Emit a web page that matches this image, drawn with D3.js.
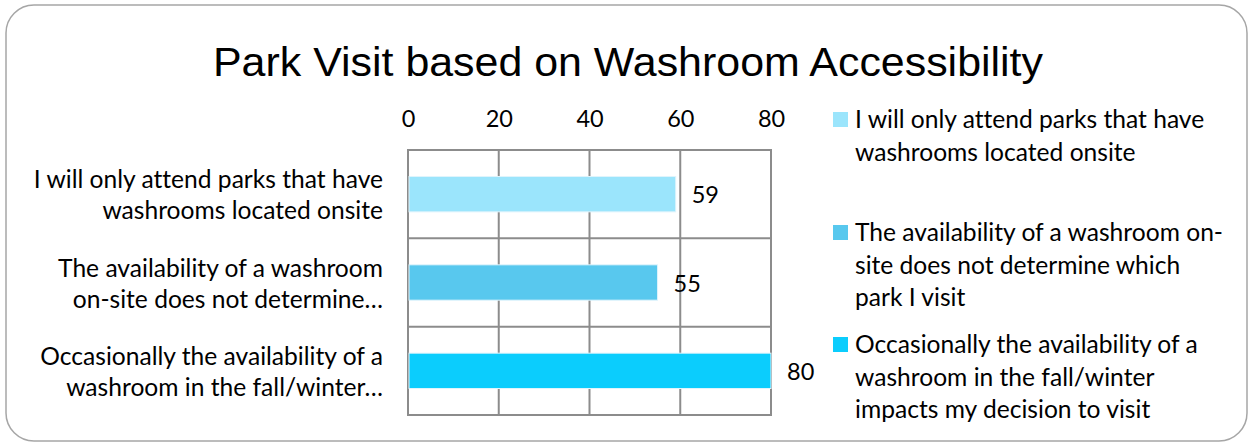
<!DOCTYPE html>
<html>
<head>
<meta charset="utf-8">
<script src="https://cdn.jsdelivr.net/npm/d3@7"></script>
<style>
  body { margin: 0; background: #fff; }
  svg { display: block; }
  text { font-variant-ligatures: none; font-feature-settings: "liga" 0; }
</style>
</head>
<body>
<svg id="chart" width="1251" height="444"></svg>
<script>
const categories = [
  ['I will only attend parks that have', 'washrooms located onsite'],
  ['The availability of a washroom', 'on-site does not determine…'],
  ['Occasionally the availability of a', 'washroom in the fall/winter…']
]
const values = [59, 55, 80]
const colors = ['#9be5fc', '#58c8ee', '#0bcdfd']
const ticks = [0, 20, 40, 60, 80]
const legendLabels = [
  ['I will only attend parks that have', 'washrooms located onsite'],
  ['The availability of a washroom on-', 'site does not determine which', 'park I visit'],
  ['Occasionally the availability of a', 'washroom in the fall/winter', 'impacts my decision to visit']
]
const title = 'Park Visit based on Washroom Accessibility'

const svg = d3.select('#chart')
const font = 'Lato, "Open Sans", sans-serif'
const fontSize = 24.6

svg.append('rect')
  .attr('x', 6).attr('y', 5).attr('width', 1241).attr('height', 436)
  .attr('rx', 28).attr('ry', 28)
  .attr('fill', '#fff').attr('stroke', '#a6a6a6').attr('stroke-width', 1.5)

svg.append('text')
  .attr('x', 628).attr('y', 76)
  .attr('text-anchor', 'middle')
  .attr('font-family', '"Liberation Sans", Arial, sans-serif')
  .attr('font-size', 40)
  .attr('textLength', 830)
  .attr('lengthAdjust', 'spacingAndGlyphs')
  .attr('fill', '#000')
  .text(title)

const margin = { left: 408, top: 150 }
const plotW = 363
const plotH = 265
const x = d3.scaleLinear().domain([0, 80]).range([0, plotW])
const y = d3.scaleBand().domain(d3.range(values.length)).range([0, plotH]).paddingInner(0.6).paddingOuter(0.3)
const rows = d3.scaleBand().domain(d3.range(values.length)).range([0, plotH])

const g = svg.append('g').attr('transform', `translate(${margin.left}, ${margin.top})`)

// grid
g.selectAll('.vgrid').data(ticks).enter().append('line')
  .attr('x1', d => x(d)).attr('x2', d => x(d))
  .attr('y1', 0).attr('y2', plotH)
  .attr('stroke', '#8c8c8c').attr('stroke-width', 2)
g.selectAll('.hgrid').data(d3.range(values.length + 1)).enter().append('line')
  .attr('x1', -1).attr('x2', plotW + 1)
  .attr('y1', d => d * rows.step()).attr('y2', d => d * rows.step())
  .attr('stroke', '#8c8c8c').attr('stroke-width', 2)

// top axis
const axis = d3.axisTop(x).tickValues(ticks).tickSize(0).tickPadding(0)
const ax = g.append('g').attr('transform', 'translate(0, -23)').call(axis)
ax.select('.domain').remove()
ax.selectAll('text').attr('font-family', font).attr('font-size', 23.5).attr('fill', '#000')

// bars
g.selectAll('.bar').data(values).enter().append('rect')
  .attr('x', 1)
  .attr('y', (d, i) => y(i))
  .attr('width', d => x(d) - 1)
  .attr('height', y.bandwidth())
  .attr('fill', (d, i) => colors[i])
  .attr('stroke', '#dff4fc').attr('stroke-width', 1)

// data labels
g.selectAll('.lbl').data(values).enter().append('text')
  .attr('x', d => x(d) + 16)
  .attr('y', (d, i) => y(i) + y.bandwidth() / 2 + 9)
  .attr('font-family', font).attr('font-size', 23.5).attr('fill', '#000')
  .text(d => d)

// category labels
categories.forEach((lines, i) => {
  const t = g.append('text')
    .attr('text-anchor', 'end')
    .attr('font-family', font).attr('font-size', fontSize).attr('fill', '#000')
  lines.forEach((line, j) => {
    t.append('tspan')
      .attr('x', -25)
      .attr('y', y(i) + y.bandwidth() / 2 - 6 + j * 31)
      .text(line)
  })
})

// legend
const legendY = [128, 241, 353]
legendLabels.forEach((lines, i) => {
  svg.append('rect')
    .attr('x', 833).attr('y', legendY[i] - 16).attr('width', 15).attr('height', 15)
    .attr('fill', colors[i])
  const t = svg.append('text')
    .attr('font-family', font).attr('font-size', fontSize).attr('fill', '#000')
  lines.forEach((line, j) => {
    t.append('tspan')
      .attr('x', 855)
      .attr('y', legendY[i] + j * 32.5)
      .text(line)
  })
})
</script>
</body>
</html>
